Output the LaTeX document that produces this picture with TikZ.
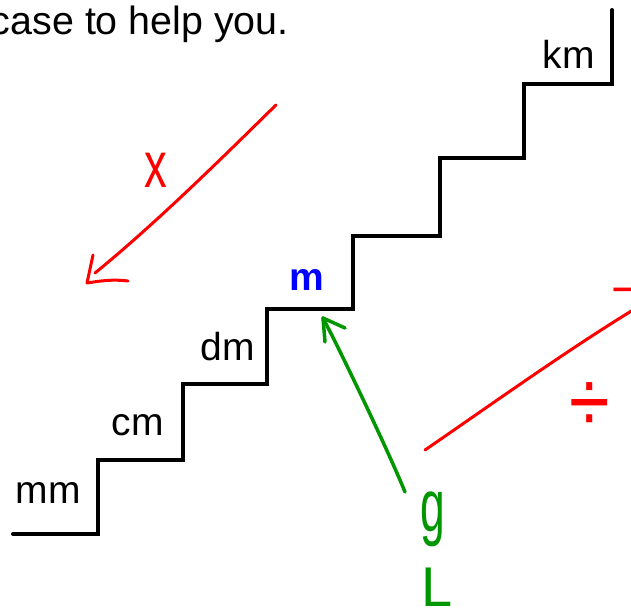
\documentclass[tikz,border=0pt]{standalone}
\usepackage{fontspec}
\setmainfont{Liberation Sans}
\definecolor{inkred}{RGB}{255,0,0}
\definecolor{inkgreen}{RGB}{0,150,0}
\definecolor{unitblue}{RGB}{0,0,255}
\begin{document}
\begin{tikzpicture}[x=1pt,y=-1pt,
  stair/.style={line width=4pt, black, line cap=round, line join=miter},
  unitlabel/.style={inner sep=0pt, anchor=base west, font=\fontsize{39}{46}\selectfont},
  redink/.style={draw=inkred, line width=3pt, line cap=round, line join=round},
  greenink/.style={draw=inkgreen, line width=3.5pt, line cap=round, line join=round},
  handtext/.style={inner sep=0pt}]
\useasboundingbox (0,0) rectangle (631,612);

% heading fragment
\node[inner sep=0pt, anchor=base east, font=\fontsize{39.4}{46}\selectfont] (head) at (289,35) {case to help you.};

% staircase
\draw[stair] (13,534) -- (98,534) -- (98,460) -- (183,460) -- (183,384) -- (267,384)
  -- (267,309) -- (353,309) -- (353,236) -- (440,236) -- (440,158) -- (524,158)
  -- (524,84) -- (612,84) -- (612,10);

% unit labels
\node[unitlabel] (mm) at (15.5,503) {mm};
\node[unitlabel] (cm) at (111.4,435) {cm};
\node[unitlabel] (dm) at (200.6,360) {dm};
\node[unitlabel, text=unitblue, font=\fontsize{39}{46}\selectfont\bfseries] (m) at (289.3,290) {m};
\node[unitlabel] (km) at (542.4,69) {km};

% red arrow (multiply, down the stairs)
\coordinate (ra1) at (276,105);
\coordinate (ra2) at (95,273);
\coordinate (rh1) at (93,255);
\coordinate (rh2) at (87,283);
\coordinate (rh3) at (128,281);
\draw[redink] (ra1) .. controls (230,150) and (160,220) .. (ra2);
\draw[redink] (rh1) -- (rh2) .. controls (100,281) and (112,279) .. (rh3);
\node[handtext, text=inkred] (times) at (156,170) {\fontsize{65}{70}\selectfont\scalebox{0.7}[1]{x}};

% red line (divide, up the stairs)
\coordinate (rl1) at (425,450);
\coordinate (rl2) at (633,310);
\draw[redink] (rl1) .. controls (492,404) and (566,351) .. (rl2);
\node[handtext, text=inkred, anchor=west] (minus) at (611,297) {\fontsize{50}{56}\selectfont −};
\node[handtext, text=inkred] (divide) at (590,408) {\fontsize{64}{70}\selectfont\scalebox{1.15}[1.4]{÷}};

% green arrow
\coordinate (ga1) at (405,492);
\coordinate (ga2) at (323,318);
\coordinate (gh1) at (325,342);
\coordinate (gh2) at (345,328);
\draw[greenink] (ga1) .. controls (390,455) and (345,360) .. (ga2);
\draw[greenink] (gh1) -- (ga2) -- (gh2);
\node[handtext, text=inkgreen, anchor=base] (g) at (432.5,531) {\fontsize{74}{80}\selectfont\scalebox{0.6}[1]{g}};
\node[handtext, text=inkgreen, anchor=base west] (L) at (421,606) {\fontsize{56}{64}\selectfont L};
\end{tikzpicture}
\end{document}
